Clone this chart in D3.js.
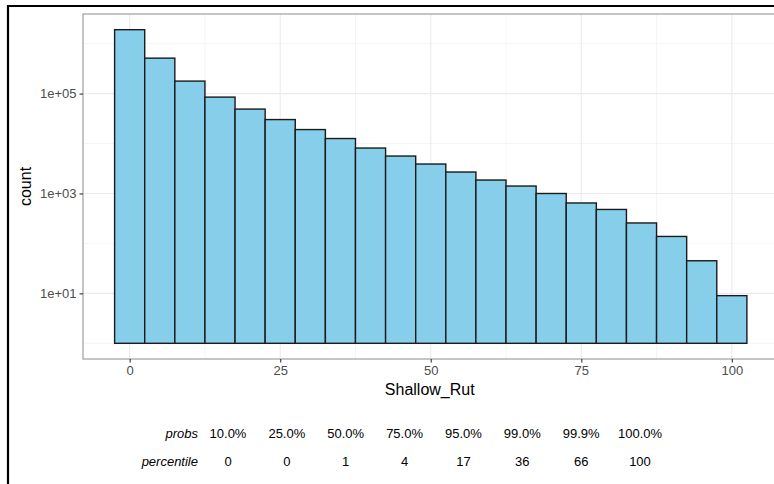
<!DOCTYPE html>
<html>
<head>
<meta charset="utf-8">
<script src="https://d3js.org/d3.v7.min.js"></script>
<style>
  body { margin: 0; background: #fff; }
  svg { display: block; font-family: "Liberation Sans", Arial, sans-serif; }
</style>
</head>
<body>
<div id="chart_div"></div>
<script>
// histogram bins (centre of each 5-wide bin) and counts
const binCenters = [0, 5, 10, 15, 20, 25, 30, 35, 40, 45, 50, 55, 60, 65, 70, 75, 80, 85, 90, 95, 100];
const counts = [1905000, 513000, 178000, 85100, 49000, 30200, 19050, 12600, 8130, 5620,
                3890, 2690, 1860, 1410, 1000, 646, 479, 257, 138, 45, 9];
const binWidth = 5;

const xTicks = [0, 25, 50, 75, 100];
const xMinor = [12.5, 37.5, 62.5, 87.5];
const yTicks = [10, 1000, 100000];
const yMinor = [1, 100, 10000, 1000000];

// quantile table under the chart
const probs = ["10.0%", "25.0%", "50.0%", "75.0%", "95.0%", "99.0%", "99.9%", "100.0%"];
const percentiles = [0, 0, 1, 4, 17, 36, 66, 100];

(function () {
  const W = 774, H = 484;
  const panel = { left: 83, top: 14, right: 778.5, bottom: 359 };

  const svg = d3.select("#chart_div")
    .append("svg")
    .attr("width", W)
    .attr("height", H);

  // outer frame (only left and top visible)
  svg.append("path")
    .attr("d", "M8," + H + "V6H" + W)
    .attr("fill", "none")
    .attr("stroke", "#000")
    .attr("stroke-width", 2.2);

  // X scale: bins from -2.5 to 102.5 with 5% expansion
  const xLo = binCenters[0] - binWidth / 2;
  const xHi = binCenters[binCenters.length - 1] + binWidth / 2;
  const xPad = (xHi - xLo) * 0.05;
  const x = d3.scaleLinear()
    .domain([xLo - xPad, xHi + xPad])
    .range([panel.left, panel.right]);

  // Y scale: log10, bars start at 1
  const lLo = 0;
  const lHi = Math.log10(d3.max(counts));
  const lPad = (lHi - lLo) * 0.05;
  const y = d3.scaleLog()
    .domain([Math.pow(10, lLo - lPad), Math.pow(10, lHi + lPad)])
    .range([panel.bottom, panel.top]);

  const g = svg.append("g");

  // grid
  g.selectAll(".ymin").data(yMinor).enter().append("line")
    .attr("x1", panel.left).attr("x2", W)
    .attr("y1", d => y(d)).attr("y2", d => y(d))
    .attr("stroke", "#f2f2f2").attr("stroke-width", 0.8);
  g.selectAll(".xmin").data(xMinor).enter().append("line")
    .attr("y1", panel.top).attr("y2", panel.bottom)
    .attr("x1", d => x(d)).attr("x2", d => x(d))
    .attr("stroke", "#f2f2f2").attr("stroke-width", 0.8);
  g.selectAll(".ymaj").data(yTicks).enter().append("line")
    .attr("x1", panel.left).attr("x2", W)
    .attr("y1", d => y(d)).attr("y2", d => y(d))
    .attr("stroke", "#ebebeb").attr("stroke-width", 1.1);
  g.selectAll(".xmaj").data(xTicks).enter().append("line")
    .attr("y1", panel.top).attr("y2", panel.bottom)
    .attr("x1", d => x(d)).attr("x2", d => x(d))
    .attr("stroke", "#ebebeb").attr("stroke-width", 1.1);

  // bars
  g.selectAll(".bar").data(binCenters).enter().append("rect")
    .attr("x", d => x(d - binWidth / 2))
    .attr("width", d => x(d + binWidth / 2) - x(d - binWidth / 2))
    .attr("y", (d, i) => y(counts[i]))
    .attr("height", (d, i) => y(1) - y(counts[i]))
    .attr("fill", "#87CEEB")
    .attr("stroke", "#1a1a1a")
    .attr("stroke-width", 1.4);

  // panel border
  svg.append("rect")
    .attr("x", panel.left).attr("y", panel.top)
    .attr("width", panel.right - panel.left)
    .attr("height", panel.bottom - panel.top)
    .attr("fill", "none")
    .attr("stroke", "#8c8c8c")
    .attr("stroke-width", 1);

  // axes
  const yAxis = svg.append("g")
    .attr("transform", "translate(" + panel.left + ",0)")
    .call(d3.axisLeft(y)
      .tickValues(yTicks)
      .tickSize(3.5)
      .tickPadding(3)
      .tickFormat(d => "1e+" + d3.format("02d")(Math.round(Math.log10(d)))));

  const xAxis = svg.append("g")
    .attr("transform", "translate(0," + panel.bottom + ")")
    .call(d3.axisBottom(x)
      .tickValues(xTicks)
      .tickSize(3.5)
      .tickPadding(3));

  [yAxis, xAxis].forEach(a => {
    a.select(".domain").remove();
    a.selectAll(".tick line").attr("stroke", "#333").attr("stroke-width", 1.1);
    a.selectAll(".tick text")
      .attr("fill", "#4d4d4d")
      .style("font-size", "13px")
      .style("font-family", "'Liberation Sans', Arial, sans-serif");
  });

  // axis titles
  svg.append("text")
    .attr("x", (panel.left + panel.right) / 2 - 1)
    .attr("y", 389)
    .attr("dy", "0.35em")
    .attr("text-anchor", "middle")
    .style("font-size", "16px")
    .text("Shallow_Rut");

  svg.append("text")
    .attr("transform", "translate(25," + (panel.top + panel.bottom) / 2 + ") rotate(-90)")
    .attr("dy", "0.35em")
    .attr("text-anchor", "middle")
    .style("font-size", "16px")
    .text("count");

  // quantile table
  const colX = d3.scalePoint()
    .domain(d3.range(probs.length))
    .range([228, 640]);
  const rows = [
    { label: "probs", vals: probs, y: 433 },
    { label: "percentile", vals: percentiles, y: 461 }
  ];
  rows.forEach(r => {
    svg.append("text")
      .attr("x", 198).attr("y", r.y).attr("dy", "0.35em")
      .attr("text-anchor", "end")
      .style("font-size", "13px")
      .style("font-style", "italic")
      .text(r.label);
    svg.selectAll(null).data(r.vals).enter().append("text")
      .attr("x", (d, i) => colX(i)).attr("y", r.y).attr("dy", "0.35em")
      .attr("text-anchor", "middle")
      .style("font-size", "13px")
      .text(d => d);
  });
})();
</script>
</body>
</html>
